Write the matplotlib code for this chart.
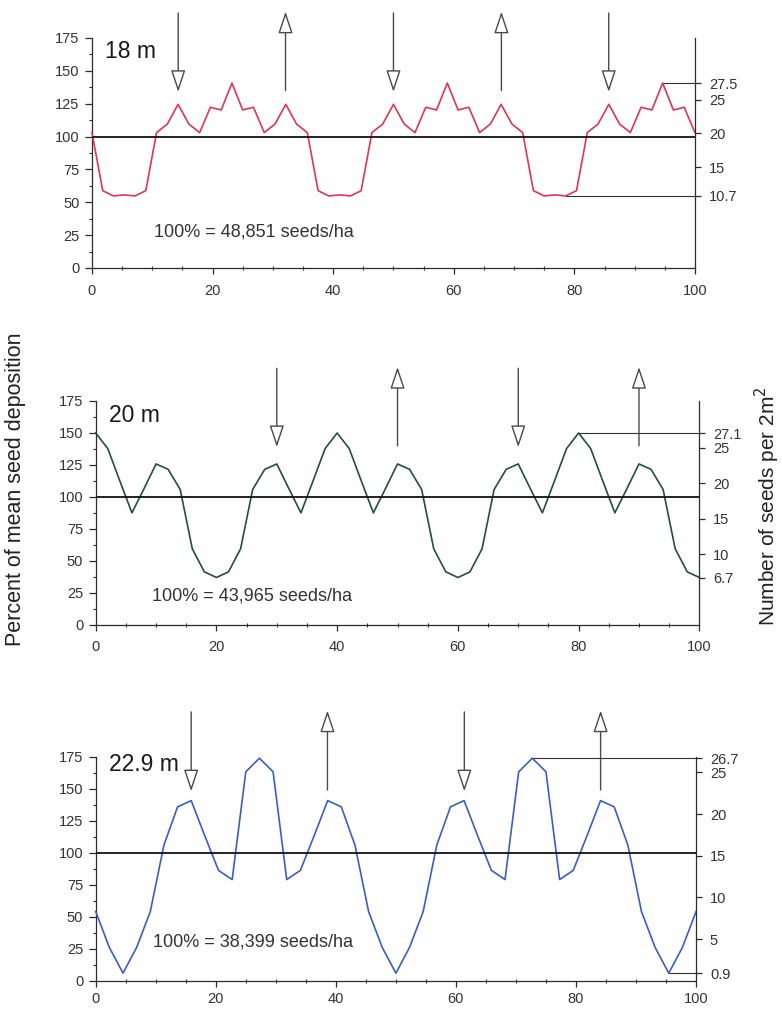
import numpy as np
import matplotlib
matplotlib.use("Agg")
import matplotlib.pyplot as plt
from matplotlib.ticker import MultipleLocator

plt.rcParams["font.family"] = ["Liberation Sans", "DejaVu Sans"]

# Percent of mean seed deposition along a 100 m transect, one series per row spacing
pct_18m = [103, 58.8, 54.8, 55.6, 54.8, 58.8, 103, 109.5, 124.5, 109.5,
           103, 122.3, 120.2, 140.7, 120.2, 122.3, 103, 109.5, 124.5, 109.5,
           103, 58.8, 54.8, 55.6, 54.8, 58.8, 103, 109.5, 124.5, 109.5,
           103, 122.3, 120.2, 140.7, 120.2, 122.3, 103, 109.5, 124.5, 109.5,
           103, 58.8, 54.8, 55.6, 54.8, 58.8, 103, 109.5, 124.5, 109.5,
           103, 122.3, 120.2, 140.7, 120.2, 122.3, 103]

pct_20m = [150, 137.8, 112.5, 87.6, 106.5, 125.8, 121.6, 105.8, 59.5, 41.5,
           37.1, 41.5, 59.5, 105.8, 121.6, 125.8, 106.5, 87.6, 112.5, 137.8,
           150, 137.8, 112.5, 87.6, 106.5, 125.8, 121.6, 105.8, 59.5, 41.5,
           37.1, 41.5, 59.5, 105.8, 121.6, 125.8, 106.5, 87.6, 112.5, 137.8,
           150, 137.8, 112.5, 87.6, 106.5, 125.8, 121.6, 105.8, 59.5, 41.5,
           37.1]

pct_229m = [54, 26, 5.9, 26, 54, 106, 135.8, 140.7, 113, 86.2,
            79, 163.2, 173.8, 163.2, 79, 86.2, 113, 140.7, 135.8, 106,
            54, 26, 5.9, 26, 54, 106, 135.8, 140.7, 113, 86.2,
            79, 163.2, 173.8, 163.2, 79, 86.2, 113, 140.7, 135.8, 106,
            54, 26, 5.9, 26, 54]

spacing_labels = ["18 m", "20 m", "22.9 m"]
mean_text = ["100% = 48,851 seeds/ha", "100% = 43,965 seeds/ha", "100% = 38,399 seeds/ha"]
# seeds per 2 m^2 that correspond to 100 %
seeds_at_100 = [19.54, 18.07, 15.36]
right_ticks = [[15, 20, 25], [10, 15, 20, 25], [5, 10, 15, 20, 25]]
# tree row positions (m) marked by arrows, alternating down / up
row_positions = [[14.3, 32.1, 50.0, 67.9, 85.7],
                 [30, 50, 70, 90],
                 [15.9, 38.6, 61.4, 84.1]]
line_colors = ["#e2354f", "#234f40", "#3a5fc2"]

series = [pct_18m, pct_20m, pct_229m]

# layout (figure fractions) and per-panel text / arrow placement
axes_rects = [[0.1176, 0.7347, 0.7711, 0.2277],
              [0.1224, 0.3812, 0.7719, 0.2218],
              [0.1224, 0.0290, 0.7677, 0.2218]]
label_y = [165, 164, 169]
note_pos = [(10.3, 27), (9.3, 23), (9.5, 30)]
arrow_span = [(134, 194), (139, 200.5), (148, 210)]
xlabel_pad = [7.5, 7, 4]

W, H = 782, 1010
fig = plt.figure(figsize=(W / 100, H / 100), dpi=100)

ink = "#2b2b2b"
for i, vals in enumerate(series):
    vals = np.asarray(vals, dtype=float)
    x = np.linspace(0, 100, len(vals))
    ax = fig.add_axes(axes_rects[i])
    ax.set_xlim(0, 100)
    ax.set_ylim(0, 175)

    ax.plot(x, vals, color=line_colors[i], lw=1.2, zorder=3, clip_on=False)
    ax.axhline(100, color="#111111", lw=1.3, zorder=4)

    for s in ("top", "right"):
        ax.spines[s].set_visible(False)
    for s in ("left", "bottom"):
        ax.spines[s].set_color(ink)
        ax.spines[s].set_linewidth(0.9)

    ax.set_xticks([0, 20, 40, 60, 80, 100])
    ax.set_yticks([0, 25, 50, 75, 100, 125, 150, 175])
    ax.xaxis.set_minor_locator(MultipleLocator(5))
    ax.yaxis.set_minor_locator(MultipleLocator(12.5))
    ax.tick_params(axis="y", which="major", direction="out", length=5, width=0.9,
                   color=ink, labelsize=10.5, labelcolor="#333333", pad=4)
    ax.tick_params(axis="y", which="minor", direction="out", length=2.5, width=0.8, color=ink)
    ax.tick_params(axis="x", which="major", direction="out", length=4, width=0.9,
                   color=ink, labelsize=10.5, labelcolor="#333333", pad=xlabel_pad[i])
    ax.tick_params(axis="x", which="minor", direction="inout", length=3, width=0.8, color=ink)

    # right axis: seeds per 2 m^2
    k = seeds_at_100[i] / 100.0
    ax2 = ax.twinx()
    ax2.set_ylim(0, 175 * k)
    for s in ("top", "left", "bottom"):
        ax2.spines[s].set_visible(False)
    ax2.spines["right"].set_color(ink)
    ax2.spines["right"].set_linewidth(0.9)

    hi_i = len(vals) - 1 - int(np.argmax(vals[::-1]))
    lo_i = len(vals) - 1 - int(np.argmin(vals[::-1]))
    hi_seeds = round(vals[hi_i] * k, 1)
    lo_seeds = round(vals[lo_i] * k, 1)
    ticks = [lo_seeds] + right_ticks[i] + [hi_seeds]
    labels = [f"{lo_seeds:.1f}"] + [str(t) for t in right_ticks[i]] + [f"{hi_seeds:.1f}"]
    ax2.set_yticks(ticks)
    ax2.set_yticklabels(labels)
    ax2.tick_params(axis="y", direction="out", length=4, width=0.9, color=ink,
                    labelsize=10.5, labelcolor="#333333", pad=6)

    # leader lines from the extreme values to the right axis
    for idx in (hi_i, lo_i):
        ax.plot([x[idx], 100], [vals[idx], vals[idx]], color="#333333", lw=0.8,
                zorder=2, clip_on=False)

    ax.text(2.2, label_y[i], spacing_labels[i], fontsize=16.5, color="#1a1a1a",
            ha="left", va="center")
    ax.text(note_pos[i][0], note_pos[i][1], mean_text[i], fontsize=13,
            color="#333333", ha="left", va="center")

    lo_a, hi_a = arrow_span[i]
    for j, xp in enumerate(row_positions[i]):
        if j % 2 == 0:
            tail, tip = hi_a, lo_a
        else:
            tail, tip = lo_a + 1, hi_a + 1
        ax.annotate("", xy=(xp, tip), xytext=(xp, tail), annotation_clip=False,
                    arrowprops=dict(arrowstyle="-|>,head_length=1.35,head_width=0.45",
                                    mutation_scale=10, fc="white", ec="#4a4a4a",
                                    lw=1.0, shrinkA=0, shrinkB=0))

fig.text(0.020, 0.516, "Percent of mean seed deposition", rotation=90,
         fontsize=15.5, color="#222222", ha="center", va="center")
fig.text(0.981, 0.499, "Number of seeds per 2m$^2$", rotation=90,
         fontsize=15, color="#222222", ha="center", va="center")

fig.savefig("out.png", dpi=100)
